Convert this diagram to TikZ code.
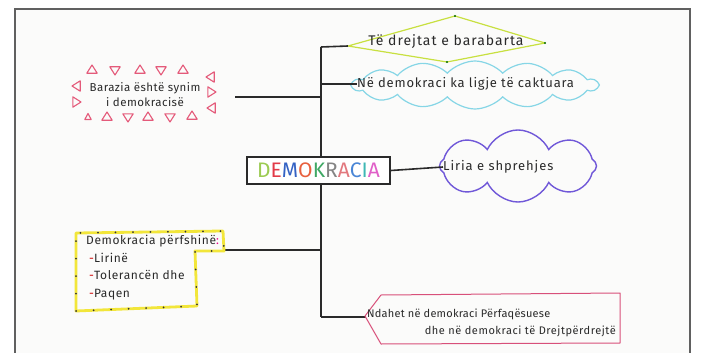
\documentclass[tikz,border=0pt]{standalone}
\usepackage{fontspec}
\setsansfont{Fira Sans}
\usetikzlibrary{shapes.symbols,decorations.markings}
\definecolor{paper}{HTML}{FBFBFA}
\definecolor{framec}{HTML}{606060}
\definecolor{inkc}{HTML}{2A2A2A}
\definecolor{diamc}{HTML}{C8E040}
\definecolor{cyanc}{HTML}{86D6E6}
\definecolor{purpc}{HTML}{7058D8}
\definecolor{pinkc}{HTML}{E45A7A}
\definecolor{yellc}{HTML}{F2E63A}
\definecolor{pentc}{HTML}{D8507A}
\definecolor{lD}{HTML}{9CCB52}
\definecolor{lE}{HTML}{E23A48}
\definecolor{lM}{HTML}{3462C4}
\definecolor{lO}{HTML}{E8603E}
\definecolor{lK}{HTML}{3FA864}
\definecolor{lR}{HTML}{858585}
\definecolor{lA}{HTML}{E2787E}
\definecolor{lC}{HTML}{4A86D6}
\definecolor{lI}{HTML}{3FB8B4}
\definecolor{lAA}{HTML}{E060C8}
\newcommand{\handfont}[3]{\sffamily\fontsize{#1}{#3}\selectfont\addfontfeatures{LetterSpace=#2}}
\begin{document}
\begin{tikzpicture}[x=1pt,y=-1pt,
  conn/.style={draw=inkc,line width=1.6pt},
  hand/.style={text=inkc,inner sep=0pt},
  tri/.style={draw=pinkc,line width=1.1pt,line join=round},
]
\useasboundingbox (0,0) rectangle (701,353);
\fill[white] (0,0) rectangle (701,353);
\fill[paper] (15,9) rectangle (690,353);
\draw[framec,line width=2.6pt] (15,353) -- (15,9) -- (690,9) -- (690,353);

% trunk coordinates
\coordinate (tTop) at (321,47);
\coordinate (tCy) at (321,84);
\coordinate (tBz) at (321,97);
\coordinate (tYe) at (321,250);
\coordinate (tBot) at (321,317);

% diamond
\coordinate (dL) at (348,46);
\coordinate (dT) at (455,16);
\coordinate (dR) at (545,43);
\coordinate (dB) at (447,62);
\draw[diamc,line width=1.2pt,line join=round] (dL) -- (dT) -- (dR) -- (dB) -- cycle;
\foreach \p in {dT,dR,dB} \fill[green!40!black] (\p) circle (1.1pt);
\node[hand,font=\handfont{14}{7}{16}] (dtext) at (446,42) {Të drejtat e barabarta};

% cyan cloud
\node[cloud,draw=cyanc,line width=1.2pt,cloud puffs=14,cloud puff arc=95,
      minimum width=245pt,minimum height=48pt,inner sep=0pt] (cyan) at (475,85) {};
\node[hand,font=\handfont{13}{6}{15},anchor=west] (cytext) at (357,84) {Në demokraci ka ligje të caktuara};

% trunk and branches
\draw[conn] (tTop) -- (tBot);
\draw[conn] (tTop) -- (dL);
\draw[conn] (tCy) -- (cytext.west);
\coordinate (bzR) at (235,97);
\draw[conn] (bzR) -- (tBz);
\coordinate (yR) at (224,250);
\draw[conn] (yR) -- (tYe);
\coordinate (pL) at (365,316);
\draw[conn] (tBot) -- (tBot -| pL) -- (pL);

% DEMOKRACIA box
\node[draw=inkc,line width=1.8pt,fill=white,minimum width=143pt,minimum height=27pt,inner sep=0pt,
      font=\handfont{21}{4}{23}] (demo) at (318.5,170.5)
 {\textcolor{lD}{D}\textcolor{lE}{E}\textcolor{lM}{M}\textcolor{lO}{O}\textcolor{lK}{K}\textcolor{lR}{R}\textcolor{lA}{A}\textcolor{lC}{C}\textcolor{lI}{I}\textcolor{lAA}{A}};

% purple cloud
\node[cloud,draw=purpc,line width=1.4pt,cloud puffs=8,cloud puff arc=130,
      minimum width=157pt,minimum height=72pt,inner sep=0pt] (liria) at (518,166) {};
\node[hand,font=\handfont{13}{7}{15},anchor=west] (litext) at (443,167) {Liria e shprehjes};
\draw[conn] (demo.east) -- (litext.west);

% Barazia with triangles
\node[hand,align=center,font=\handfont{11.5}{4}{15}] (baraz) at (145,95) {Barazia është synim\\i demokracisë};
\foreach \x/\y/\r in {92/70/0,115/70/180,140/70/0,161/70/180,183/70/0,
                      77/86/90,76/102/-90,
                      211/77/90,211/92/-90,212/108/90,
                      107/117/0,128/117/180,148/117/0,170/117/180,192/116/0}
  \draw[tri,shift={(\x,\y)},rotate=\r] (0,-5) -- (5.2,3.2) -- (-5.2,3.2) -- cycle;
\draw[tri,shift={(88,117)}] (0,-3.5) -- (3.2,2.5) -- (-3.2,2.5) -- cycle;

% yellow box
\draw[yellc,line width=2.8pt,line join=round,
  postaction={decorate,decoration={markings,
    mark=between positions 0.01 and 1 step 17.5pt with {\fill[black!80] (0,0) circle (1pt);}}}]
  (76,233) -- (223,231) -- (224,251) -- (195,251) -- (197,306) -- (76,311) -- cycle;
\node[hand,anchor=north west,align=left,font=\handfont{12}{5}{17.5}] (ytext) at (86,235)
 {Demokracia përfshinë\textcolor{magenta}{:}\\
  \hspace*{3pt}\textcolor{red!80!black}{-}Lirinë\\
  \hspace*{3pt}\textcolor{red!80!black}{-}Tolerancën dhe\\
  \hspace*{3pt}\textcolor{red!80!black}{-}Paqen};

% pentagon
\coordinate (pTL) at (381,295);
\coordinate (pTR) at (620,293);
\coordinate (pBR) at (620,343);
\coordinate (pBL) at (381,344);
\draw[pentc,line width=1pt,line join=round] (pL) -- (pTL) -- (pTR) -- (pBR) -- (pBL) -- cycle;
\node[hand,anchor=west,font=\handfont{11}{2}{13}] (pt1) at (367,314) {Ndahet në demokraci Përfaqësuese};
\node[hand,anchor=east,font=\handfont{11}{5}{13}] (pt2) at (616,331) {dhe në demokraci të Drejtpërdrejtë};
\end{tikzpicture}
\end{document}
